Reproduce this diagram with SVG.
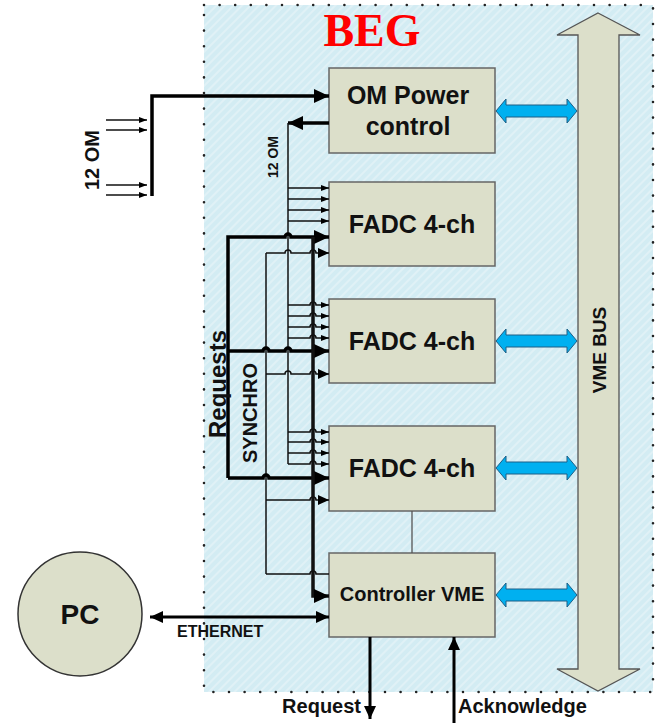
<svg xmlns="http://www.w3.org/2000/svg" width="659" height="723" viewBox="0 0 659 723">
<defs>
<pattern id="hatch" width="6" height="6" patternUnits="userSpaceOnUse" patternTransform="rotate(45)">
<rect width="6" height="6" fill="#d3ecf3"/>
<rect width="2" height="6" fill="#e0f1f6"/>
</pattern>
<marker id="aBig" markerUnits="userSpaceOnUse" markerWidth="16" markerHeight="14" refX="15" refY="7" orient="auto"><path d="M0,0 L15,7 L0,14 Z" fill="#000"/></marker>
<marker id="aMed" markerUnits="userSpaceOnUse" markerWidth="12" markerHeight="10" refX="11" refY="5" orient="auto"><path d="M0,0 L11,5 L0,10 Z" fill="#000"/></marker>
<marker id="aSm" markerUnits="userSpaceOnUse" markerWidth="8" markerHeight="6" refX="8" refY="3" orient="auto"><path d="M0,0 L8,3 L0,6 Z" fill="#000"/></marker>
<marker id="aEth" markerUnits="userSpaceOnUse" markerWidth="14" markerHeight="12" refX="13" refY="6" orient="auto-start-reverse"><path d="M0,0 L13,6 L0,12 Z" fill="#000"/></marker>
</defs>
<style>
.box{fill:#dcdfca;stroke:#666;stroke-width:1.5}
.t{font-family:"Liberation Sans",Arial,sans-serif;font-weight:bold;fill:#111}
.thin{fill:none;stroke:#111;stroke-width:1.5}
.thick{fill:none;stroke:#000;stroke-width:3.5}
.blue{fill:#00b0f0;stroke:#1d5f86;stroke-width:1}
</style>
<g id="frame">
<rect x="204" y="5" width="449" height="687" fill="url(#hatch)"/>
<rect x="204" y="5" width="449" height="687" fill="none" stroke="#222" stroke-width="2.6" stroke-linecap="round" stroke-dasharray="0 15.6"/>
<text x="372" y="46" font-family="'Liberation Serif','Times New Roman',serif" font-weight="bold" font-size="46" fill="#ff0000" text-anchor="middle">BEG</text>
</g>
<g id="vmebus">
<polygon points="598,13 640,35 619,35 619,669 640,669 598,691 557,669 578,669 578,35 557,35" fill="#dcdfca" stroke="#555" stroke-width="1.3"/>
<text class="t" font-size="19" transform="translate(606,350) rotate(-90)" text-anchor="middle">VME BUS</text>
</g>
<g id="om-power">
<rect class="box" x="329" y="68" width="166" height="85"/>
<text class="t" font-size="25" x="408" y="104" text-anchor="middle">OM Power</text>
<text class="t" font-size="25" x="408" y="135" text-anchor="middle">control</text>
</g>
<g id="fadc1">
<rect class="box" x="329" y="182" width="166" height="84"/>
<text class="t" font-size="25" x="412" y="233" text-anchor="middle">FADC 4-ch</text>
</g>
<g id="fadc2">
<rect class="box" x="329" y="299" width="166" height="84"/>
<text class="t" font-size="25" x="412" y="350" text-anchor="middle">FADC 4-ch</text>
</g>
<g id="fadc3">
<rect class="box" x="329" y="426" width="166" height="85"/>
<text class="t" font-size="25" x="412" y="477" text-anchor="middle">FADC 4-ch</text>
</g>
<g id="controller">
<rect class="box" x="329" y="553" width="166" height="84"/>
<text class="t" font-size="20" x="412" y="601" text-anchor="middle">Controller VME</text>
</g>
<g id="pc">
<circle cx="80" cy="614" r="62" fill="#dcdfca" stroke="#333" stroke-width="1.5"/>
<text class="t" font-size="28" x="80" y="624" text-anchor="middle">PC</text>
</g>
<g id="connectors">
<polygon class="blue" points="496,111 506,99 506,105 567,105 567,99 577,111 567,123 567,117 506,117 506,123"/>
<polygon class="blue" points="496,341 506,329 506,335 567,335 567,329 577,341 567,353 567,347 506,347 506,353"/>
<polygon class="blue" points="496,468 506,456 506,462 567,462 567,456 577,468 567,480 567,474 506,474 506,480"/>
<polygon class="blue" points="496,595 506,583 506,589 567,589 567,583 577,595 567,607 567,601 506,601 506,607"/>
<line x1="412" y1="511" x2="412" y2="553" stroke="#555" stroke-width="1.3"/>
<!-- external 12 OM -->
<path class="thin" d="M106,120 H147" marker-end="url(#aSm)"/>
<path class="thin" d="M106,130 H147" marker-end="url(#aSm)"/>
<path class="thin" d="M106,185 H147" marker-end="url(#aSm)"/>
<path class="thin" d="M106,195 H147" marker-end="url(#aSm)"/>
<path class="thick" d="M152,196 V96 H329" marker-end="url(#aBig)"/>
<text class="t" font-size="20" transform="translate(99,160) rotate(-90)" text-anchor="middle">12 OM</text>
<!-- internal 12 OM -->
<path class="thick" d="M329,123 H288" marker-end="url(#aBig)"/>
<path class="thin" d="M288,123 V464"/>
<text class="t" font-size="14" transform="translate(278,157) rotate(-90)" text-anchor="middle">12 OM</text>
<path class="thin" d="M288,188 H329" marker-end="url(#aSm)"/>
<path class="thin" d="M288,199 H329" marker-end="url(#aSm)"/>
<path class="thin" d="M288,210 H329" marker-end="url(#aSm)"/>
<path class="thin" d="M288,221 H329" marker-end="url(#aSm)"/>
<path class="thin" d="M288,305 H310 a3,3 0 0 1 6,0 H329" marker-end="url(#aSm)"/>
<path class="thin" d="M288,316 H310 a3,3 0 0 1 6,0 H329" marker-end="url(#aSm)"/>
<path class="thin" d="M288,327 H310 a3,3 0 0 1 6,0 H329" marker-end="url(#aSm)"/>
<path class="thin" d="M288,338 H310 a3,3 0 0 1 6,0 H329" marker-end="url(#aSm)"/>
<path class="thin" d="M288,432 H310 a3,3 0 0 1 6,0 H329" marker-end="url(#aSm)"/>
<path class="thin" d="M288,442 H310 a3,3 0 0 1 6,0 H329" marker-end="url(#aSm)"/>
<path class="thin" d="M288,453 H310 a3,3 0 0 1 6,0 H329" marker-end="url(#aSm)"/>
<path class="thin" d="M288,464 H310 a3,3 0 0 1 6,0 H329" marker-end="url(#aSm)"/>
<!-- SYNCHRO -->
<path class="thin" d="M266,253 V574"/>
<path class="thin" d="M266,253 H285 a3,3 0 0 1 6,0 H310 a3,3 0 0 1 6,0 H329" marker-end="url(#aMed)"/>
<path class="thin" d="M266,374 H285 a3,3 0 0 1 6,0 H310 a3,3 0 0 1 6,0 H329" marker-end="url(#aMed)"/>
<path class="thin" d="M266,500 H310 a3,3 0 0 1 6,0 H329" marker-end="url(#aMed)"/>
<path class="thin" d="M266,574 H310 a3,3 0 0 1 6,0 H329"/>
<text class="t" font-size="20" transform="translate(257,413) rotate(-90)" text-anchor="middle">SYNCHRO</text>
<!-- Requests -->
<path class="thick" d="M228,478 V237 H285 a3,3 0 0 1 6,0 H329" marker-end="url(#aBig)"/>
<path class="thick" d="M228,351 H263 a3,3 0 0 1 6,0 H285 a3,3 0 0 1 6,0 H329" marker-end="url(#aBig)"/>
<path class="thick" d="M228,478 H263 a3,3 0 0 1 6,0 H329" marker-end="url(#aBig)"/>
<path class="thin" style="stroke-width:3.5" d="M313,237 V596 H329" marker-end="url(#aBig)"/>
<text class="t" font-size="24" transform="translate(226,384) rotate(-90)" text-anchor="middle">Requests</text>
<!-- Ethernet -->
<path class="thick" style="stroke-width:3" d="M150,617 H329" marker-start="url(#aEth)" marker-end="url(#aEth)"/>
<text class="t" font-size="16" x="177" y="637">ETHERNET</text>
<!-- Request / Acknowledge -->
<path class="thick" style="stroke-width:3" d="M370,637 V719" marker-end="url(#aEth)"/>
<text class="t" font-size="20" x="361" y="713" text-anchor="end">Request</text>
<path class="thick" style="stroke-width:3" d="M454,723 V637" marker-end="url(#aEth)"/>
<text class="t" font-size="20" x="458" y="713">Acknowledge</text>
</g>
</svg>
